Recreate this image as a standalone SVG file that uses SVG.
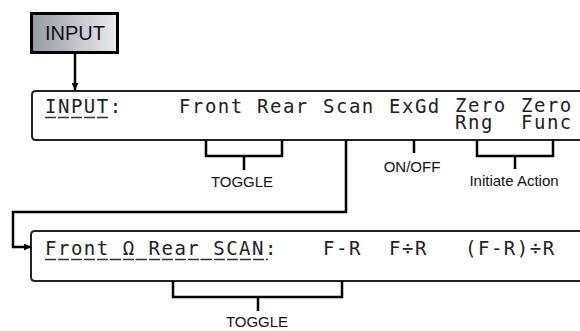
<svg xmlns="http://www.w3.org/2000/svg" width="580" height="331" viewBox="0 0 580 331">
<defs>
<linearGradient id="btn" x1="0" y1="0" x2="1" y2="0">
<stop offset="0" stop-color="#9599a1"/>
<stop offset="1" stop-color="#ececee"/>
</linearGradient>
<marker id="arr" viewBox="0 0 10 10" refX="10" refY="5" markerWidth="7" markerHeight="7" markerUnits="userSpaceOnUse" orient="auto">
<path d="M0,0 L10,5 L0,10 z" fill="#000"/>
</marker>
</defs>
<style>
.lcd{font-family:"DejaVu Sans Mono","Liberation Mono",monospace;font-size:19px;letter-spacing:1.5px;fill:#222}
.lbl{font-family:"Liberation Sans",Arial,sans-serif;font-size:15px;fill:#111;text-anchor:middle}
.box{fill:#fff;stroke:#222;stroke-width:2}
.ln{fill:none;stroke:#000;stroke-width:2.5}
.ul{stroke:#333;stroke-width:1.5;stroke-dasharray:11 2}
</style>
<g id="input-button">
<rect x="31.5" y="13.5" width="86" height="39" fill="url(#btn)" stroke="#000" stroke-width="3"/>
<text x="75" y="40" font-family="'Liberation Sans',Arial,sans-serif" font-size="20" text-anchor="middle" fill="#111">INPUT</text>
</g>
<g id="lcd-input">
<path class="box" d="M585,91 H36 Q32,91 32,95 V136 Q32,140 36,140 H585"/>
<text class="lcd" x="45" y="113">INPUT:</text>
<line class="ul" x1="45" y1="117.5" x2="110" y2="117.5"/>
<text class="lcd" x="179" y="113">Front</text>
<text class="lcd" x="257" y="113">Rear</text>
<text class="lcd" x="323" y="113">Scan</text>
<text class="lcd" x="389" y="113">ExGd</text>
<text class="lcd" x="455" y="112">Zero</text>
<text class="lcd" x="455" y="129">Rng</text>
<text class="lcd" x="521" y="112">Zero</text>
<text class="lcd" x="521" y="129">Func</text>
</g>
<g id="lcd-scan">
<path class="box" d="M585,231 H35 Q31,231 31,235 V277 Q31,281 35,281 H585"/>
<text class="lcd" x="45" y="255">Front_Ω_Rear_SCAN:</text>
<line class="ul" x1="45" y1="259.5" x2="268" y2="259.5"/>
<text class="lcd" x="323" y="255">F-R</text>
<text class="lcd" x="389" y="255">F÷R</text>
<text class="lcd" x="465" y="255">(F-R)÷R</text>
</g>
<g id="labels">
<text class="lbl" x="242" y="187">TOGGLE</text>
<text class="lbl" x="412" y="172">ON/OFF</text>
<text class="lbl" x="514" y="186">Initiate Action</text>
<text class="lbl" x="257" y="327">TOGGLE</text>
</g>
<g id="connectors">
<line class="ln" x1="75" y1="53" x2="75" y2="90" marker-end="url(#arr)"/>
<path class="ln" d="M206,140 V156 H282 V140 M244,156 V170"/>
<path class="ln" d="M414,140 V153"/>
<path class="ln" d="M477,140 V156 H553 V140 M515,156 V169"/>
<path class="ln" d="M346,140 V212 H13 V247 H31" marker-end="url(#arr)"/>
<path class="ln" d="M173,281 V297 H342 V281 M258,297 V311"/>
</g>
</svg>
